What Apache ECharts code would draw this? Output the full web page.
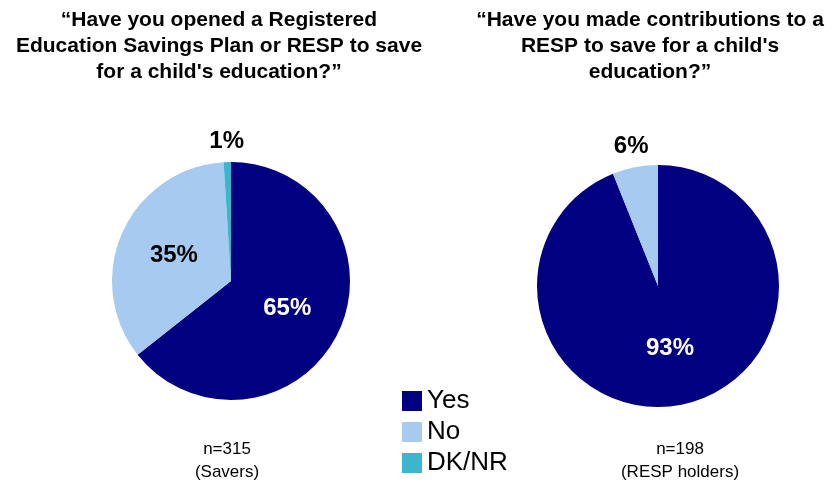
<!DOCTYPE html>
<html>
<head>
<meta charset="utf-8">
<script src="https://cdn.jsdelivr.net/npm/echarts@6/dist/echarts.min.js"></script>
<style>
  html, body { margin: 0; padding: 0; background: #ffffff; }
  #chart { width: 833px; height: 487px; }
</style>
</head>
<body>
<div id="chart"></div>
<script>
// Survey answers, in percent
const categories = ['Yes', 'No', 'DK/NR'];
const openedValues = [65, 35, 1];        // Savers, n=315
const contributedValues = [93, 6];       // RESP holders, n=198

const leftTitle = '“Have you opened a Registered\nEducation Savings Plan or RESP to save\nfor a child\'s education?”';
const rightTitle = '“Have you made contributions to a\nRESP to save for a child\'s\neducation?”';
const leftNote = 'n=315\n(Savers)';
const rightNote = 'n=198\n(RESP holders)';

const palette = ['#000080', '#A6CAF0', '#3CB6CC'];
const FONT = '"Liberation Sans", Arial, Helvetica, sans-serif';

// Large slices get their label inside; small ones get it just outside the rim
const INSIDE_MIN = 10;

function pieSeries(values, center, r) {
  const labelStyle = {
    position: 'inside',
    formatter: '{c}%',
    fontFamily: FONT,
    fontSize: 24,
    fontWeight: 'bold'
  };
  const main = {
    type: 'pie',
    center: center,
    radius: [0, r],
    startAngle: 90,
    clockwise: true,
    avoidLabelOverlap: false,
    silent: true,
    emphasis: { disabled: true },
    labelLine: { show: false },
    label: labelStyle,
    data: values.map((v, i) => ({
      name: categories[i],
      value: v,
      itemStyle: { color: palette[i] },
      label: { show: v >= INSIDE_MIN, color: i === 0 ? '#ffffff' : '#000000' }
    }))
  };
  // transparent ring carrying the labels of the thin slices
  const ring = {
    type: 'pie',
    center: center,
    radius: [r, r + 36],
    startAngle: 90,
    clockwise: true,
    avoidLabelOverlap: false,
    silent: true,
    emphasis: { disabled: true },
    labelLine: { show: false },
    label: labelStyle,
    data: values.map((v, i) => ({
      name: categories[i],
      value: v,
      itemStyle: { color: 'rgba(0,0,0,0)' },
      label: { show: v > 0 && v < INSIDE_MIN, color: '#000000' }
    }))
  };
  return [main, ring];
}

const chart = echarts.init(document.getElementById('chart'), null, { renderer: 'canvas' });

const titleStyle = { fontFamily: FONT, fontSize: 21, fontWeight: 'bold', lineHeight: 26, color: '#000000' };
const noteStyle = { fontFamily: FONT, fontSize: 17, fontWeight: 'normal', lineHeight: 23, color: '#000000' };

chart.setOption({
  backgroundColor: '#ffffff',
  animation: false,
  title: [
    { text: leftTitle, left: 219, top: 7, textAlign: 'center', padding: 0, textStyle: titleStyle },
    { text: rightTitle, left: 650, top: 7, textAlign: 'center', padding: 0, textStyle: titleStyle },
    { text: leftNote, left: 227, top: 438, textAlign: 'center', padding: 0, textStyle: noteStyle },
    { text: rightNote, left: 680, top: 438, textAlign: 'center', padding: 0, textStyle: noteStyle }
  ],
  legend: {
    orient: 'vertical',
    left: 402,
    top: 388,
    height: 130,
    padding: 0,
    icon: 'rect',
    itemWidth: 20,
    itemHeight: 20,
    itemGap: 5,
    selectedMode: false,
    data: categories,
    textStyle: { fontFamily: FONT, fontSize: 26, color: '#000000' }
  },
  series: [
    ...pieSeries(openedValues, [231, 281], 119),
    ...pieSeries(contributedValues, [658, 286], 121)
  ]
});
</script>
</body>
</html>
